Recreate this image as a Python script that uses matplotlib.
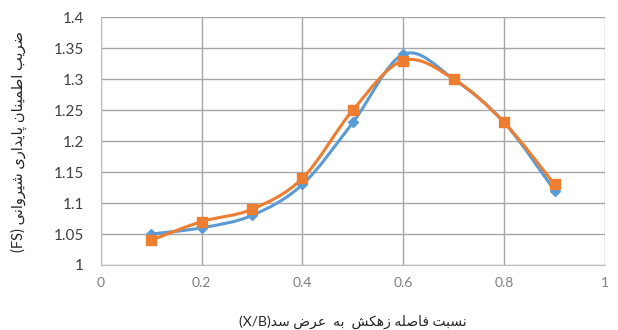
import numpy as np
import matplotlib
matplotlib.use("Agg")
import matplotlib.pyplot as plt
from matplotlib.path import Path
from matplotlib.patches import PathPatch

plt.rcParams['font.family'] = ['Lato', 'DejaVu Sans']

x = [0.1, 0.2, 0.3, 0.4, 0.5, 0.6, 0.7, 0.8, 0.9]
fs_blue = [1.05, 1.06, 1.08, 1.13, 1.23, 1.34, 1.30, 1.23, 1.12]
fs_orange = [1.04, 1.07, 1.09, 1.14, 1.25, 1.33, 1.30, 1.23, 1.13]

xticks = [0, 0.2, 0.4, 0.6, 0.8, 1]
yticks = [1, 1.05, 1.1, 1.15, 1.2, 1.25, 1.3, 1.35, 1.4]

ylabel_fa = "ضریب اطمینان پایداری شیروانی"
xlabel_fa = "نسبت فاصله زهکش  به  عرض سد"

# presentation forms: isolated, final, initial, medial (None = does not join forward)
FORMS = {
    'ا': (0xFE8D, 0xFE8E, None, None),
    'ب': (0xFE8F, 0xFE90, 0xFE91, 0xFE92),
    'پ': (0xFB56, 0xFB57, 0xFB58, 0xFB59),
    'ت': (0xFE95, 0xFE96, 0xFE97, 0xFE98),
    'د': (0xFEA9, 0xFEAA, None, None),
    'ر': (0xFEAD, 0xFEAE, None, None),
    'ز': (0xFEAF, 0xFEB0, None, None),
    'س': (0xFEB1, 0xFEB2, 0xFEB3, 0xFEB4),
    'ش': (0xFEB5, 0xFEB6, 0xFEB7, 0xFEB8),
    'ص': (0xFEB9, 0xFEBA, 0xFEBB, 0xFEBC),
    'ض': (0xFEBD, 0xFEBE, 0xFEBF, 0xFEC0),
    'ط': (0xFEC1, 0xFEC2, 0xFEC3, 0xFEC4),
    'ع': (0xFEC9, 0xFECA, 0xFECB, 0xFECC),
    'ف': (0xFED1, 0xFED2, 0xFED3, 0xFED4),
    'ک': (0xFB8E, 0xFB8F, 0xFB90, 0xFB91),
    'ل': (0xFEDD, 0xFEDE, 0xFEDF, 0xFEE0),
    'م': (0xFEE1, 0xFEE2, 0xFEE3, 0xFEE4),
    'ن': (0xFEE5, 0xFEE6, 0xFEE7, 0xFEE8),
    'ه': (0xFEE9, 0xFEEA, 0xFEEB, 0xFEEC),
    'و': (0xFEED, 0xFEEE, None, None),
    'ی': (0xFBFC, 0xFBFD, 0xFBFE, 0xFBFF),
}


def shape_fa(text):
    out = []
    for i, ch in enumerate(text):
        if ch not in FORMS:
            out.append(ch)
            continue
        prev = text[i - 1] if i > 0 else ''
        nxt = text[i + 1] if i + 1 < len(text) else ''
        join_prev = prev in FORMS and FORMS[prev][2] is not None
        join_next = nxt in FORMS and FORMS[ch][2] is not None
        iso, fin, ini, med = FORMS[ch]
        if join_prev and join_next:
            out.append(chr(med))
        elif join_prev:
            out.append(chr(fin))
        elif join_next:
            out.append(chr(ini))
        else:
            out.append(chr(iso))
    return ''.join(out)[::-1]


def smooth_path(xs, ys):
    # Excel-like smoothed line: cubic bezier through the points
    p = np.column_stack([xs, ys])
    verts = [p[0]]
    codes = [Path.MOVETO]
    n = len(p)
    for i in range(n - 1):
        p0 = p[i - 1] if i > 0 else p[i]
        p3 = p[i + 2] if i + 2 < n else p[i + 1]
        c1 = p[i] + (p[i + 1] - p0) / 6
        c2 = p[i + 1] - (p3 - p[i]) / 6
        verts += [c1, c2, p[i + 1]]
        codes += [Path.CURVE4] * 3
    return Path(verts, codes)


fig = plt.figure(figsize=(6.18, 3.30), dpi=100)
ax = fig.add_axes([0.163, 0.197, 0.816, 0.751])

blue = '#5B9BD5'
orange = '#ED7D31'
ax.add_patch(PathPatch(smooth_path(x, fs_blue), fill=False, edgecolor=blue, lw=2.2, zorder=3))
ax.add_patch(PathPatch(smooth_path(x, fs_orange), fill=False, edgecolor=orange, lw=2.2, zorder=4))
ax.plot(x, fs_blue, linestyle='none', marker='D', ms=5, color=blue, zorder=5)
ax.plot(x, fs_orange, linestyle='none', marker='s', ms=6.5, color=orange, zorder=6)

ax.set_xlim(0, 1)
ax.set_ylim(1, 1.4)
ax.set_xticks(xticks)
ax.set_yticks(yticks)
ax.set_xticklabels(['0', '0.2', '0.4', '0.6', '0.8', '1'])
ax.set_yticklabels(['1', '1.05', '1.1', '1.15', '1.2', '1.25', '1.3', '1.35', '1.4'])
ax.grid(True, color='#A6A6A6', lw=1)
ax.set_axisbelow(True)
for s in ['top', 'right']:
    ax.spines[s].set_visible(False)
for s in ['left', 'bottom']:
    ax.spines[s].set_color('#BFBFBF')
ax.tick_params(length=0)
ax.tick_params(axis='x', labelsize=10, colors='#7F7F7F', pad=9)
ax.tick_params(axis='y', labelsize=11, colors='#404040', pad=12)

ax.set_xlabel('(X/B)' + shape_fa(xlabel_fa), fontsize=10, color='#262626', labelpad=18)
ax.set_ylabel('(FS) ' + shape_fa(ylabel_fa), fontsize=10.5, color='#262626', labelpad=19)

fig.savefig('out.png', dpi=100)
